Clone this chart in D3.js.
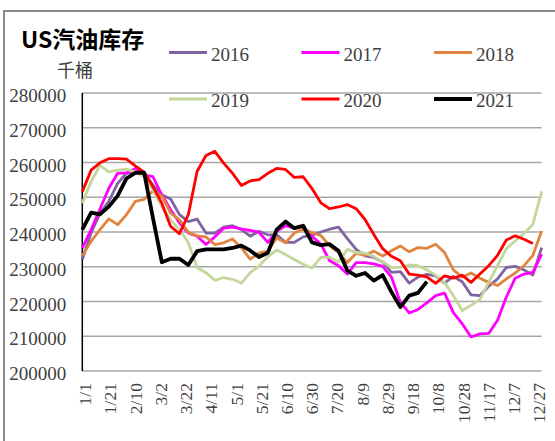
<!DOCTYPE html>
<html>
<head>
<meta charset="utf-8">
<script src="https://cdn.jsdelivr.net/npm/d3@7"></script>
<style>
  body { margin: 0; background: #fff; }
  svg { display: block; }
</style>
</head>
<body>
<div id="chart"></div>
<script>
// weekly gasoline stocks, thousand barrels, first point on 1/1
var years = ["2016", "2017", "2018", "2019", "2020", "2021"];
var colors = ["#8064A2", "#FF00FF", "#E0843F", "#C4D79B", "#FF0000", "#000000"];

var s2016 = [232100, 239700, 245400, 248800, 254000, 256900, 257300, 256900, 253500, 250700,
  249500, 245000, 243000, 243700, 239700, 239700, 241400, 241800, 240700, 238800,
  240200, 239200, 239200, 237000, 237000, 238600, 239100, 240000, 240800, 241400,
  238100, 235000, 233100, 232700, 231400, 228400, 228600, 225300, 227000, 227800,
  227400, 225300, 227200, 225700, 221900, 221700, 224400, 226500, 229800, 230100,
  229100, 227600, 235500];
var s2017 = [235400, 240700, 246600, 252600, 256900, 257000, 258300, 256400, 255900, 250700,
  246400, 242600, 239700, 238800, 236400, 238600, 241100, 241400, 240900, 240500,
  239900, 237000, 240200, 241800, 241100, 241600, 238800, 236500, 231700, 230300,
  227900, 231200, 231200, 230800, 230100, 227000, 219800, 216700, 217700, 219600,
  221700, 222400, 216800, 213600, 209800, 210700, 210800, 214600, 221300, 226700,
  227900, 228400, 233600];
var s2018 = [233200, 237300, 240700, 243800, 242100, 245000, 248800, 249400, 251800, 250400,
  245400, 243500, 239900, 238900, 238600, 236400, 236900, 238000, 235500, 232200,
  233900, 234500, 238300, 236900, 239700, 240900, 239800, 239000, 236000, 234100,
  231200, 233900, 233300, 234500, 233100, 234600, 236000, 234300, 235500, 235300,
  236500, 234100, 229100, 227000, 228200, 226700, 225500, 224600, 226500, 228200,
  230300, 233300, 240300];
var s2019 = [248300, 254500, 259200, 257300, 257800, 258100, 257300, 255900, 252100, 247300,
  243500, 240700, 237000, 229700, 228300, 226100, 226900, 226400, 225300, 228300,
  230200, 232900, 234800, 233500, 232100, 230700, 229600, 232700, 232700, 231400,
  235000, 234100, 233900, 233000, 231400, 229800, 229800, 230500, 230300, 229100,
  227600, 225500, 221700, 217400, 218900, 220600, 225500, 230300, 235200, 237400,
  239600, 242200, 251700];
var s2020 = [251600, 257800, 259900, 261100, 261100, 261000, 259000, 257200, 253000, 248300,
  241600, 239500, 245000, 257500, 262000, 263200, 259800, 256900, 253400, 254700,
  255100, 256900, 258300, 258000, 255700, 255900, 252500, 248400, 246700, 247200,
  247900, 246700, 243600, 239300, 235200, 233000, 231700, 227900, 227600, 227100,
  225200, 227400, 226700, 227600, 225500, 227900, 230300, 233300, 237700, 238900,
  237900, 236700];
var s2021 = [240700, 245600, 245100, 247300, 250400, 255400, 257000, 257100, 244000, 231300,
  232300, 232300, 230500, 234500, 235000, 235000, 235000, 235400, 236100, 234700,
  232800, 234000, 240700, 243000, 241100, 241800, 237000, 236200, 236500, 234600,
  228900, 227400, 228200, 226000, 227600, 222700, 218400, 221700, 222500, 225700];

var series = [s2016, s2017, s2018, s2019, s2020, s2021];

var tickLabels = ["1/1", "1/21", "2/10", "3/2", "3/22", "4/11", "5/1", "5/21", "6/10", "6/30",
  "7/20", "8/9", "8/29", "9/18", "10/8", "10/28", "11/17", "12/7", "12/27"];
var yTicks = [200000, 210000, 220000, 230000, 240000, 250000, 260000, 270000, 280000];

var W = 555, H = 441;
var margin = { top: 93, right: 13.3, bottom: 70, left: 82.3 };
var width = W - margin.left - margin.right;
var height = H - margin.top - margin.bottom;

var parseDay = d3.timeParse("%Y/%m/%d");
var start = parseDay("2021/1/1");

var x = d3.scaleTime()
    .domain([start, parseDay("2021/12/31")])
    .range([0, width]);
var y = d3.scaleLinear()
    .domain([200000, 280000])
    .range([height, 0]);

var root = d3.select("#chart").append("svg")
    .attr("width", W)
    .attr("height", H);

// outer frame
root.append("rect")
    .attr("x", 4)
    .attr("y", 11)
    .attr("width", 600)
    .attr("height", 480)
    .attr("fill", "none")
    .attr("stroke", "#8a8a8a")
    .attr("stroke-width", 2);

// title + unit
root.append("text")
    .attr("x", 21)
    .attr("y", 48)
    .attr("font-family", "'Noto Sans CJK SC', sans-serif")
    .attr("font-weight", "bold")
    .attr("font-size", 23)
    .attr("fill", "#000")
    .text("US汽油库存");
root.append("text")
    .attr("x", 57)
    .attr("y", 77)
    .attr("font-family", "'Noto Sans CJK SC', sans-serif")
    .attr("font-size", 18)
    .attr("fill", "#404040")
    .text("千桶");

var svg = root.append("g")
    .attr("transform", "translate(" + margin.left + "," + margin.top + ")");

// gridlines
svg.append("g")
    .selectAll("line")
    .data(yTicks)
    .enter().append("line")
    .attr("x1", 0)
    .attr("x2", width)
    .attr("y1", function (d) { return y(d); })
    .attr("y2", function (d) { return y(d); })
    .attr("stroke", "#a6a6a6")
    .attr("stroke-width", 1.5);

// y labels
svg.append("g")
    .selectAll("text")
    .data(yTicks)
    .enter().append("text")
    .attr("x", -16)
    .attr("y", function (d) { return y(d) + 9; })
    .attr("text-anchor", "end")
    .attr("font-family", "'Liberation Serif', serif")
    .attr("font-size", 19)
    .attr("fill", "#404040")
    .text(function (d) { return d; });

// x labels
var fmt = d3.timeFormat("%-m/%-d");
var tickDates = tickLabels.map(function (t) { return parseDay("2021/" + t); });
svg.append("g")
    .selectAll("text")
    .data(tickDates)
    .enter().append("text")
    .attr("transform", function (d) {
        return "translate(" + x(d) + "," + (height + 12) + ") rotate(-90)";
    })
    .attr("dy", "0.5em")
    .attr("text-anchor", "end")
    .attr("font-family", "'Liberation Serif', serif")
    .attr("font-size", 17.5)
    .attr("fill", "#404040")
    .text(function (d) { return fmt(d); });

// y axis line
svg.append("line")
    .attr("x1", 0).attr("x2", 0)
    .attr("y1", 0).attr("y2", height)
    .attr("stroke", "#000")
    .attr("stroke-width", 1.5);

// series lines
var line = d3.line()
    .x(function (d, i) { return x(d3.timeDay.offset(start, 7 * i)); })
    .y(function (d) { return y(d); })
    .curve(d3.curveLinear);

series.forEach(function (s, k) {
    svg.append("path")
        .datum(s)
        .attr("d", line)
        .attr("fill", "none")
        .attr("stroke", colors[k])
        .attr("stroke-width", k === 5 ? 3.8 : 2.8)
        .attr("stroke-linejoin", "round");
});

// legend, 3 per row
var legend = root.append("g");
years.forEach(function (yr, k) {
    var col = k % 3, row = Math.floor(k / 3);
    var lx = 169 + col * 132.5, ly = 52.5 + row * 46.5;
    legend.append("line")
        .attr("x1", lx).attr("x2", lx + 38)
        .attr("y1", ly).attr("y2", ly)
        .attr("stroke", colors[k])
        .attr("stroke-width", k === 5 ? 3.8 : 2.8);
    legend.append("text")
        .attr("x", lx + 42)
        .attr("y", ly + 8)
        .attr("font-family", "'Liberation Serif', serif")
        .attr("font-size", 19)
        .attr("fill", "#404040")
        .text(yr);
});
</script>
</body>
</html>
